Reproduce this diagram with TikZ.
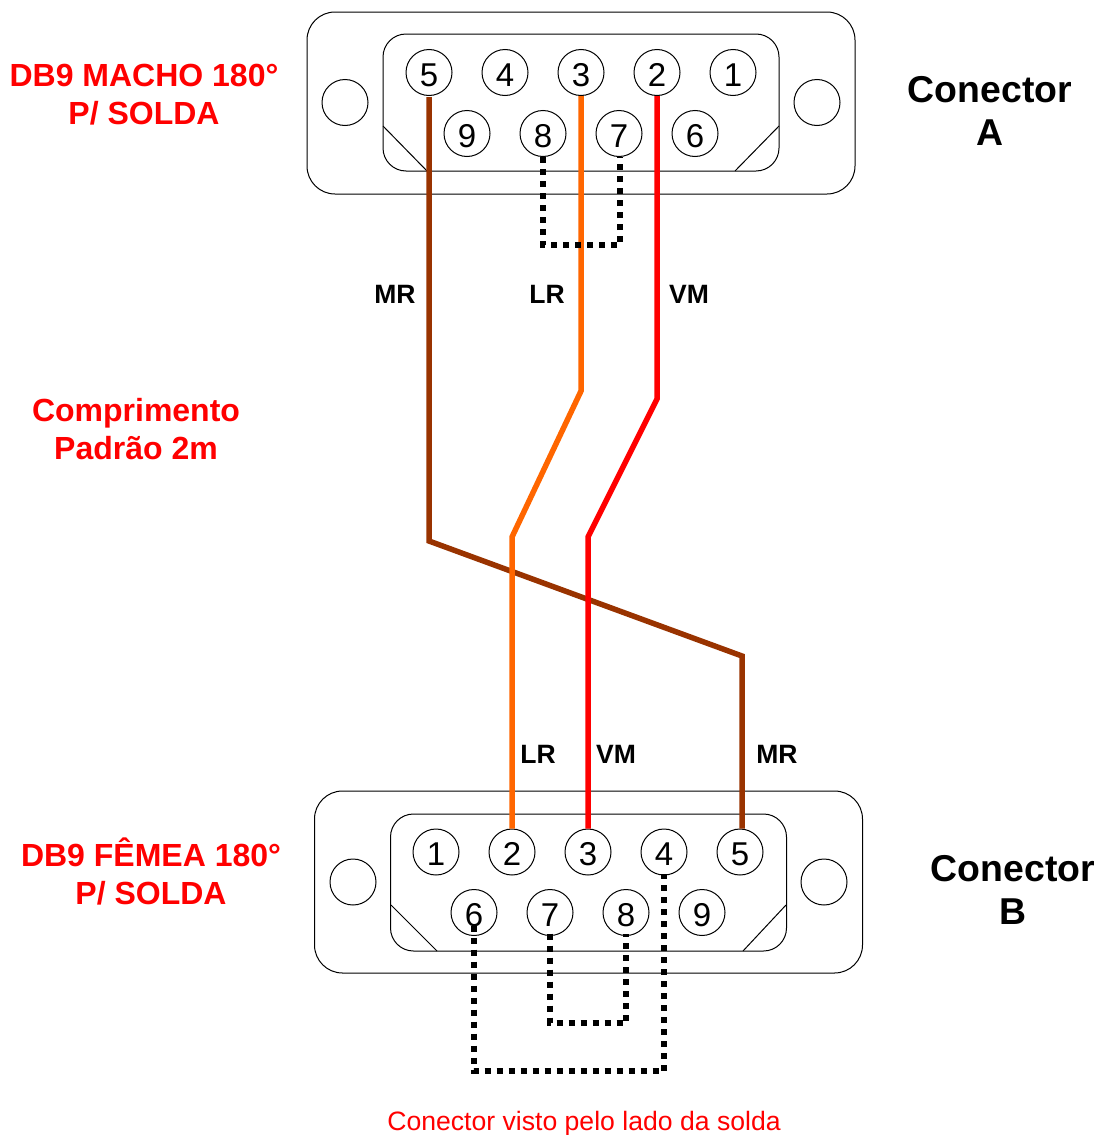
\documentclass[tikz,border=0pt]{standalone}
\usepackage{fontspec}
\setmainfont{Liberation Sans}
\usetikzlibrary{positioning}
\definecolor{wirebrown}{HTML}{993300}
\definecolor{wireorange}{HTML}{FF6600}
\definecolor{wirered}{HTML}{FF0000}

\begin{document}
\begin{tikzpicture}[
        x=1pt, y=-1pt,
        node distance=29pt and 29pt,
        shell/.style={draw, line width=1pt, rounded corners=28pt, minimum width=548pt, minimum height=182pt, inner sep=0pt},
        face/.style={draw, line width=1pt, rounded corners=23pt, minimum width=396pt, minimum height=137pt, inner sep=0pt},
        pin/.style={draw, circle, line width=1pt, minimum size=46pt, inner sep=0pt, text height=27.5pt, text depth=0pt, font=\fontsize{33}{33}\selectfont},
        hole/.style={draw, circle, line width=1pt, minimum size=46pt, inner sep=0pt},
        wire/.style={line width=5.5pt},
        jumper/.style={line width=5.5pt, dash pattern=on 6pt off 6pt},
        note/.style={align=center, text=red, font=\fontsize{32}{38}\selectfont\bfseries},
        title/.style={align=center, font=\fontsize{37.4}{43}\selectfont\bfseries},
        tag/.style={font=\fontsize{26.5}{26.5}\selectfont\bfseries}
    ]
  \useasboundingbox (0,0) rectangle (1100,1135);

  % Connector A
  \node (shella) [shell] at (581,103) {};
  \node (facea) [face] at (581,102.5) {};
  \node (holea1) [hole] at (345,102.5) {};
  \node (holea2) [hole] at (817,102.5) {};
  \node (pa5) [pin] at (429,72.5) {5};
  \node (pa4) [pin,right=of pa5] {4};
  \node (pa3) [pin,right=of pa4] {3};
  \node (pa2) [pin,right=of pa3] {2};
  \node (pa1) [pin,right=of pa2] {1};
  \node (pa9) [pin] at (467,133.5) {9};
  \node (pa8) [pin,right=of pa9] {8};
  \node (pa7) [pin,right=of pa8] {7};
  \node (pa6) [pin,right=of pa7] {6};

  % Connector B
  \node (shellb) [shell] at (588.5,882) {};
  \node (faceb) [face] at (588.5,882.5) {};
  \node (holeb1) [hole] at (353,882) {};
  \node (holeb2) [hole] at (824,882) {};
  \node (pb1) [pin] at (436,852) {1};
  \node (pb2) [pin,right=of pb1] {2};
  \node (pb3) [pin,right=of pb2] {3};
  \node (pb4) [pin,right=of pb3] {4};
  \node (pb5) [pin,right=of pb4] {5};
  \node (pb6) [pin] at (474,912.5) {6};
  \node (pb7) [pin,right=of pb6] {7};
  \node (pb8) [pin,right=of pb7] {8};
  \node (pb9) [pin,right=of pb8] {9};

  % Bends
  \coordinate (cuta1) at (383,126);
  \coordinate (cuta2) at (427,171);
  \coordinate (cuta3) at (779,126);
  \coordinate (cuta4) at (735,171);
  \coordinate (cutb1) at (391,905);
  \coordinate (cutb2) at (437,951);
  \coordinate (cutb3) at (786,905);
  \coordinate (cutb4) at (743,951);
  \coordinate (mr1) at (429,541);
  \coordinate (mr2) at (742,656);
  \coordinate (lr1) at (581,391);
  \coordinate (lr2) at (512,537);
  \coordinate (vm1) at (657,399);
  \coordinate (vm2) at (588,537);
  \coordinate (jma) at (543,245);
  \coordinate (jna) at (620,245);
  \coordinate (jmb) at (550,1023);
  \coordinate (jnb) at (626,1023);
  \coordinate (jpb) at (474,1071);
  \coordinate (jqb) at (664,1071);

  \draw[line width=1pt] (cuta1) -- (cuta2);
  \draw[line width=1pt] (cuta3) -- (cuta4);
  \draw[line width=1pt] (cutb1) -- (cutb2);
  \draw[line width=1pt] (cutb3) -- (cutb4);

  % Wires
  \draw[wire,wirebrown] ([yshift=-1pt]pa5.south) -- (mr1) -- (mr2) -- ([xshift=2pt]pb5.north);
  \draw[wire,wireorange] (pa3.south) -- (lr1) -- (lr2) -- (pb2.north);
  \draw[wire,wirered] (pa2.south) -- (vm1) -- (vm2) -- (pb3.north);

  % Jumpers
  \draw[jumper] (pa8.south) -- (jma) -- (jna) -- ([xshift=1pt]pa7.south);
  \draw[jumper] ([yshift=2.5pt]pb7.south) -- (jmb) -- (jnb) -- ([yshift=2.5pt]pb8.south);
  \draw[jumper] ([yshift=10.5pt]pb6.south) -- (jpb) -- (jqb) -- ([yshift=2pt]pb4.south);

  % Labels
  \node (mrtop) [tag] at (395,294) {MR};
  \node (lrtop) [tag] at (547,294) {LR};
  \node (vmtop) [tag] at (689,294) {VM};
  \node (lrbot) [tag] at (538,754) {LR};
  \node (vmbot) [tag] at (616,754) {VM};
  \node (mrbot) [tag] at (777,754) {MR};
  \node (macho) [note] at (144,95) {DB9 MACHO 180°\\P/ SOLDA};
  \node (femea) [note] at (151,871) {DB9 FÊMEA 180°\\P/ SOLDA};
  \node (length) [note] at (136,429) {Comprimento\\Padrão 2m};
  \node (conna) [title] at (990,111) {Conector\\A};
  \node (connb) [title] at (1013,890) {Conector\\B};
  \node (side) [text=red, inner sep=0pt, font=\fontsize{26.6}{26.6}\selectfont] at (584,1123.5) {Conector visto pelo lado da solda};
\end{tikzpicture}
\end{document}
